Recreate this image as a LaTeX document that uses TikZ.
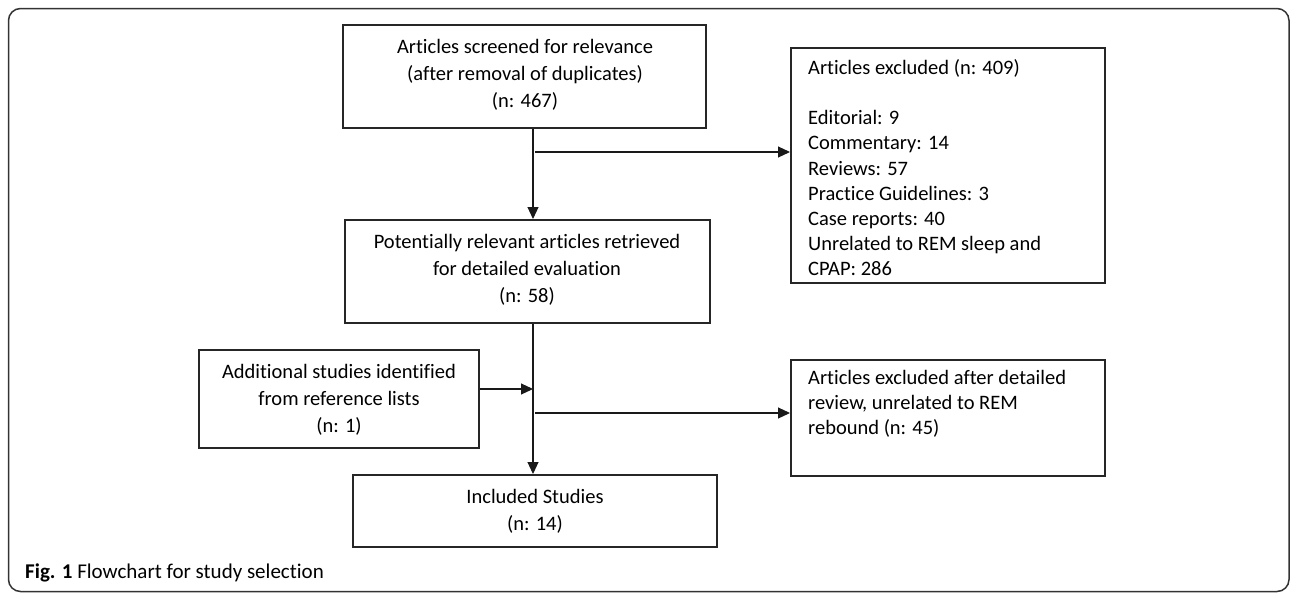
\documentclass[tikz,border=0pt]{standalone}
\usepackage{fontspec}
\setmainfont[Ligatures={NoCommon,NoRequired,NoContextual}]{Carlito}
\usetikzlibrary{arrows.meta,calc}
\begin{document}
\begin{tikzpicture}[x=1pt,y=-1pt,
  box/.style={draw=black!85, line width=2pt, rectangle, inner sep=0pt},
  ctext/.style={align=center, font=\fontsize{20.5}{27}\selectfont, inner sep=0pt},
  ltext/.style={align=left, font=\fontsize{20.5}{25.2}\selectfont, inner sep=0pt, anchor=north west},
  flow/.style={draw=black!90, line width=1.1pt, -{Triangle[length=12pt,width=11pt]}},
  frame/.style={draw=black!80, line width=1.5pt, rounded corners=12pt}
]
\useasboundingbox (0,0) rectangle (1290,592);
\draw[frame] (8.5,8.5) rectangle (1289,591.5);

% central column
\node[box, minimum width=363pt, minimum height=103pt] (b1) at (524.5,76.5) {};
\node[ctext] (t1) at (525,75) {Articles screened for relevance\\(after removal of duplicates)\\(n: 467)};

\node[box, minimum width=365pt, minimum height=103pt] (b2) at (527.5,271.5) {};
\node[ctext] (t2) at (527,270) {Potentially relevant articles retrieved\\for detailed evaluation\\(n: 58)};

\node[box, minimum width=280pt, minimum height=98pt] (b3) at (339,399) {};
\node[ctext] (t3) at (339,400) {Additional studies identified\\from reference lists\\(n: 1)};

\node[box, minimum width=364pt, minimum height=72pt] (b4) at (535,511) {};
\node[ctext] (t4) at (535,511.5) {Included Studies\\(n: 14)};

% exclusion boxes
\node[box, minimum width=314pt, minimum height=235pt] (e1) at (948,165.5) {};
\node[ltext] (te1) at (808,59) {Articles excluded (n: 409)\\[25.2pt]Editorial: 9\\Commentary: 14\\Reviews: 57\\Practice Guidelines: 3\\Case reports: 40\\Unrelated to REM sleep and\\CPAP: 286};

\node[box, minimum width=314pt, minimum height=116pt] (e2) at (948,418) {};
\node[ltext] (te2) at (808,370) {Articles excluded after detailed\\review, unrelated to REM\\rebound (n: 45)};

% connectors
\coordinate (c1) at (533,152);
\coordinate (c2) at (533,389);
\coordinate (c3) at (533,413);
\draw[flow] (b1.south -| c1) -- (b2.north -| c1);
\draw[flow] ($(c1)+(2,0)$) -- (e1.west |- c1);
\draw[draw=black!90, line width=1.1pt] (b2.south -| c1) -- (c2);
\draw[flow] (c2) -- (b4.north -| c1);
\draw[flow] (b3.east |- c2) -- (c2);
\draw[flow] ($(c3)+(2,0)$) -- (e2.west |- c3);

% caption
\node[anchor=west, inner sep=0pt, font=\fontsize{21}{24}\selectfont] (cap) at (25,573) {\textbf{Fig. 1} Flowchart for study selection};
\end{tikzpicture}
\end{document}
